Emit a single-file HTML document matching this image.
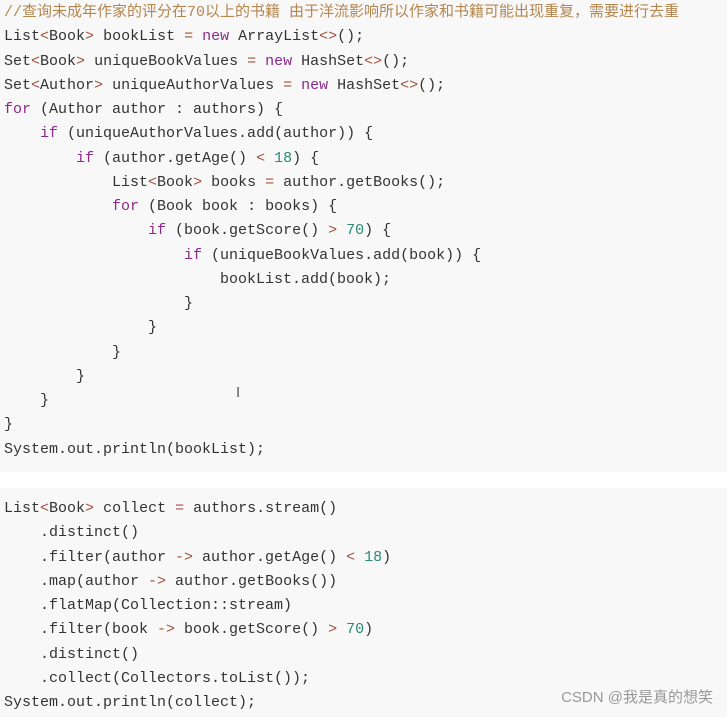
<!DOCTYPE html>
<html><head><meta charset="utf-8"><style>
html,body{margin:0;padding:0;background:#fff;width:727px;height:717px;overflow:hidden}
.b{position:absolute;left:0;width:727px;background:#f8f8f8}
pre{margin:0;position:absolute;left:4px;font-family:"Liberation Mono","Noto Sans CJK SC",monospace;font-size:15px;line-height:24.25px;color:#333}
.k{color:#8b2a8b}.o{color:#a3503a}.n{color:#2a8a72}.c{color:#b5864e;font-size:15px}
</style></head><body>
<div class="b" style="top:0;height:472px"></div>
<div class="b" style="top:488px;height:229px"></div>
<pre style="top:1px"><span class="c">//查询未成年作家的评分在70以上的书籍 由于洋流影响所以作家和书籍可能出现重复，需要进行去重</span>
List<span class="o">&lt;</span>Book<span class="o">&gt;</span> bookList <span class="o">=</span> <span class="k">new</span> ArrayList<span class="o">&lt;&gt;</span>();
Set<span class="o">&lt;</span>Book<span class="o">&gt;</span> uniqueBookValues <span class="o">=</span> <span class="k">new</span> HashSet<span class="o">&lt;&gt;</span>();
Set<span class="o">&lt;</span>Author<span class="o">&gt;</span> uniqueAuthorValues <span class="o">=</span> <span class="k">new</span> HashSet<span class="o">&lt;&gt;</span>();
<span class="k">for</span> (Author author : authors) {
    <span class="k">if</span> (uniqueAuthorValues.add(author)) {
        <span class="k">if</span> (author.getAge() <span class="o">&lt;</span> <span class="n">18</span>) {
            List<span class="o">&lt;</span>Book<span class="o">&gt;</span> books <span class="o">=</span> author.getBooks();
            <span class="k">for</span> (Book book : books) {
                <span class="k">if</span> (book.getScore() <span class="o">&gt;</span> <span class="n">70</span>) {
                    <span class="k">if</span> (uniqueBookValues.add(book)) {
                        bookList.add(book);
                    }
                }
            }
        }
    }
}
System.out.println(bookList);</pre>
<pre style="top:497px">List<span class="o">&lt;</span>Book<span class="o">&gt;</span> collect <span class="o">=</span> authors.stream()
    .distinct()
    .filter(author <span class="o">-&gt;</span> author.getAge() <span class="o">&lt;</span> <span class="n">18</span>)
    .map(author <span class="o">-&gt;</span> author.getBooks())
    .flatMap(Collection::stream)
    .filter(book <span class="o">-&gt;</span> book.getScore() <span class="o">&gt;</span> <span class="n">70</span>)
    .distinct()
    .collect(Collectors.toList());
System.out.println(collect);</pre>
<div style="position:absolute;left:236px;top:384px;font:15px 'Liberation Sans';color:#555">I</div>
<div style="position:absolute;right:14px;top:686px;font:15px 'Liberation Sans','Noto Sans CJK SC',sans-serif;color:#999">CSDN @我是真的想笑</div>
</body></html>
